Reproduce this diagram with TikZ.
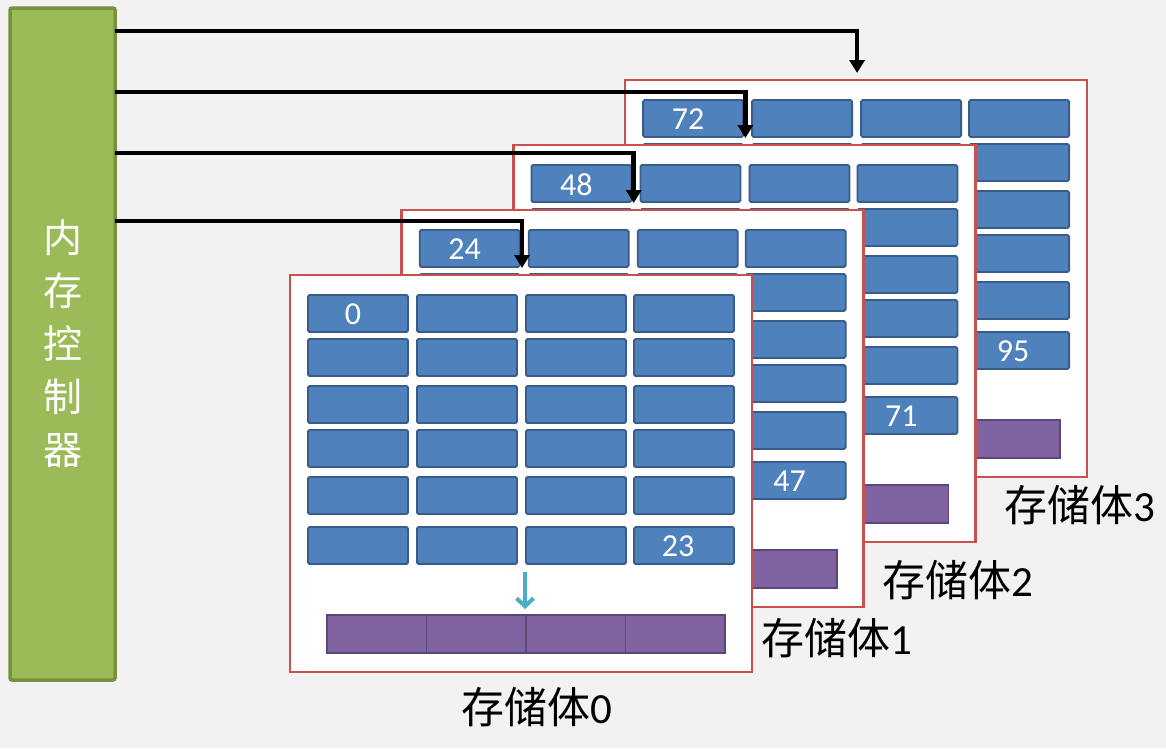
\documentclass[tikz,border=0pt]{standalone}
\usepackage{fontspec}
\setmainfont{Carlito}
\newfontfamily\cjk{Noto Sans CJK SC}
\usetikzlibrary{arrows.meta,calc}
\definecolor{bg}{HTML}{F2F2F2}
\definecolor{grfill}{HTML}{9BBB59}
\definecolor{grline}{HTML}{76923C}
\definecolor{blfill}{HTML}{4F81BD}
\definecolor{blline}{HTML}{385D8A}
\definecolor{pufill}{HTML}{8064A2}
\definecolor{puline}{HTML}{5C4776}
\definecolor{rdline}{HTML}{C9504D}
\definecolor{cyarrow}{HTML}{4BACC6}
\begin{document}
\begin{tikzpicture}[x=1pt,y=-1pt,
  ctrlbox/.style={draw=grline, fill=grfill, line width=3.5pt, rounded corners=2pt,
    minimum width=105pt, minimum height=672pt, inner sep=0pt, outer sep=0pt,
    text=white, align=center, font=\cjk\fontsize{39}{53}\selectfont},
  panelbox/.style={draw=rdline, fill=white, line width=2.5pt, minimum width=462pt,
    minimum height=397pt, inner sep=0pt, outer sep=0pt, anchor=north west},
  cellbox/.style={draw=blline, fill=blfill, line width=1.8pt, rounded corners=1.5pt,
    minimum width=100pt, minimum height=37pt, inner sep=0pt, outer sep=0pt, anchor=north west},
  numtxt/.style={text=white, font=\fontsize{32}{32}\selectfont, inner sep=0pt},
  bufbox/.style={draw=puline, fill=pufill, line width=1.8pt, minimum width=99.5pt,
    minimum height=38pt, inner sep=0pt, outer sep=0pt, anchor=north west},
  bus/.style={line width=4.5pt, -{Triangle[length=13pt,width=15pt]}},
  lbl/.style={font=\fontsize{43}{43}\selectfont, inner sep=0pt}
]
\path[fill=bg] (0,0) rectangle (1166,748);

\node[ctrlbox] (ctrl) at (62.5,344) {内\\存\\控\\制\\器};

\foreach \k in {3,2,1,0} {
  \pgfmathsetmacro{\px}{290+111.7*\k}
  \pgfmathsetmacro{\py}{275-65*\k}
  \pgfmathtruncatemacro{\first}{24*\k}
  \pgfmathtruncatemacro{\last}{24*\k+23}
  \node[panelbox] (p\k) at (\px,\py) {};
  \foreach [count=\r] \ry in {20,64,111,155,202,252} {
    \foreach [count=\c] \cx in {18,127,236,344} {
      \node[cellbox] (c\k-\r-\c) at (\px+\cx,\py+\ry) {};
    }
  }
  \node[numtxt] (f\k) at ($(c\k-1-1.center)+(-5,1)$) {\first};
  \node[numtxt] (l\k) at ($(c\k-6-4.center)+(-6,1)$) {\last};
  \foreach [count=\i] \bx in {37,136.5,236,335.5} {
    \node[bufbox] (b\k-\i) at (\px+\bx,\py+340) {};
  }
  \coordinate (as\k) at (\px+235,\py+297);
  \coordinate (ae\k) at (\px+235,\py+334);
  \draw[cyarrow, line width=4pt, -{Straight Barb[length=8pt,width=17pt]}] (as\k) -- (ae\k);
}

\node[lbl] (L0) at (537,707) {{\cjk 存储体}0};
\node[lbl] (L1) at (837,638) {{\cjk 存储体}1};
\node[lbl] (L2) at (958,580) {{\cjk 存储体}2};
\node[lbl] (L3) at (1080,505) {{\cjk 存储体}3};

\coordinate (y3) at (0,31);
\coordinate (y2) at (0,92);
\coordinate (y1) at (0,153);
\coordinate (y0) at (0,221);
\foreach \k in {0,1,2,3} {
  \coordinate (t\k) at ($(p\k.north west)+(232,-7)$);
  \draw[bus] (ctrl.east |- y\k) -| (t\k);
}
\end{tikzpicture}
\end{document}
